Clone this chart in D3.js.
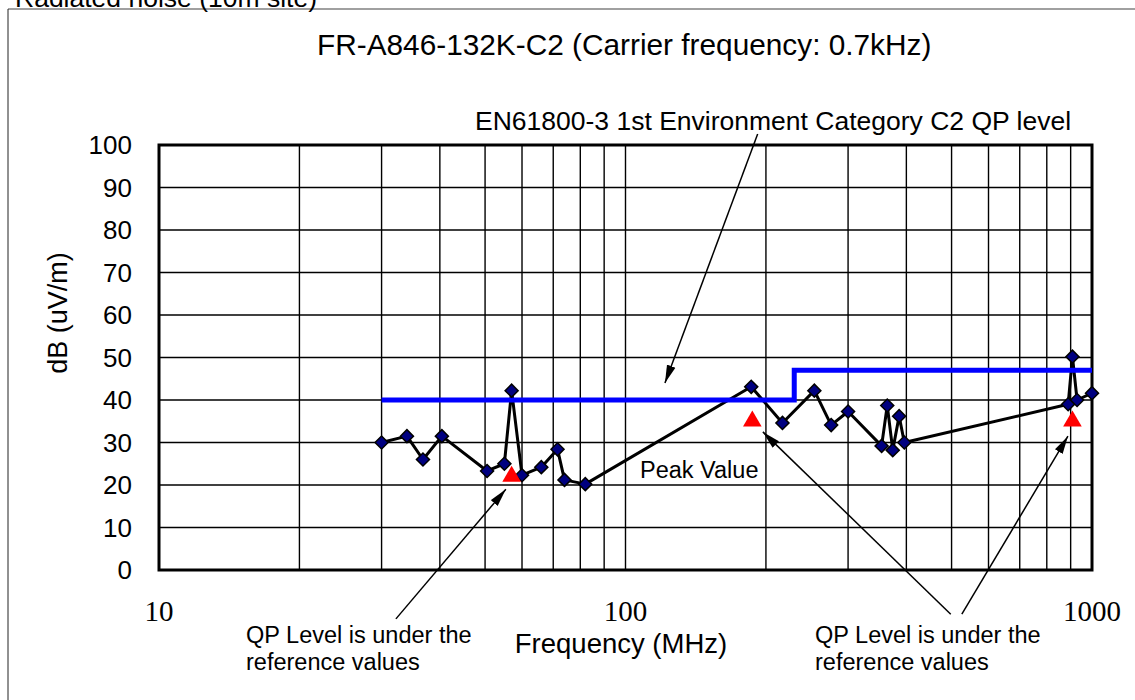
<!DOCTYPE html>
<html lang="en">
  <head>
    <meta charset="UTF-8" />
    <title>Radiated noise (10m site)</title>
    <script src="https://cdn.jsdelivr.net/npm/d3@7"></script>
    <style>
      body { margin: 0; background: #fff; }
      text { font-family: Arial, "Liberation Sans", sans-serif; fill: #000; }
      .serif { font-family: "Times New Roman", "Liberation Serif", serif; }
    </style>
  </head>
  <body>
    <div id="chart"></div>
    <script>
      // measured peak values (MHz, dBuV/m)
      const freqMHz = [30, 34, 36.8, 40.4, 50.5, 55, 57, 60, 66, 71.5, 74, 82, 186, 217, 254, 276, 300, 354, 364, 374, 386, 396, 889, 908, 929, 1000];
      const peakDb = [30, 31.5, 26, 31.5, 23.3, 25, 42.2, 22.3, 24.2, 28.4, 21.2, 20.2, 43.1, 34.6, 42.2, 34.1, 37.3, 29.2, 38.7, 28.2, 36.2, 30, 39, 50.2, 40, 41.6];

      // QP readings (red triangles)
      const qpFreq = [57, 187, 908];
      const qpDb = [22, 35, 35];

      // EN61800-3 C2 QP limit (step)
      const limitFreq = [30, 230, 230, 1000];
      const limitDb = [40, 40, 47, 47];

      const yTicks = [0, 10, 20, 30, 40, 50, 60, 70, 80, 90, 100];
      const xLabels = [10, 100, 1000];

      const width = 1135, height = 700;
      const plotLeft = 159, plotRight = 1092, plotTop = 145, plotBottom = 570;

      const x = d3.scaleLog().domain([10, 1000]).range([plotLeft, plotRight]);
      const y = d3.scaleLinear().domain([0, 100]).range([plotBottom, plotTop]);

      const svg = d3.select("#chart").append("svg")
        .attr("width", width)
        .attr("height", height);

      svg.append("defs").append("marker")
        .attr("id", "arrow")
        .attr("markerUnits", "userSpaceOnUse")
        .attr("viewBox", "0 -5 18 10")
        .attr("refX", 18).attr("refY", 0)
        .attr("markerWidth", 18).attr("markerHeight", 10)
        .attr("orient", "auto")
        .append("path")
        .attr("d", "M0,-4.5L18,0L0,4.5Z")
        .attr("fill", "#000");

      // outer frame
      svg.append("line").attr("x1", 8).attr("x2", width).attr("y1", 9).attr("y2", 9)
        .attr("stroke", "#808080").attr("stroke-width", 1.5);
      svg.append("line").attr("x1", 8).attr("x2", 8).attr("y1", 9).attr("y2", height)
        .attr("stroke", "#222").attr("stroke-width", 1);

      svg.append("text")
        .attr("x", 15).attr("y", 7)
        .attr("font-size", 26.5)
        .text("Radiated noise (10m site)");

      svg.append("text")
        .attr("x", 317).attr("y", 55)
        .attr("font-size", 29.8)
        .text("FR-A846-132K-C2 (Carrier frequency: 0.7kHz)");

      // grid
      const grid = svg.append("g").attr("stroke", "#000").attr("stroke-width", 1.4);
      grid.selectAll(".vg")
        .data(x.ticks().filter(d => d > 10 && d < 1000))
        .join("line")
        .attr("x1", d => x(d)).attr("x2", d => x(d))
        .attr("y1", plotTop).attr("y2", plotBottom);
      grid.selectAll(".hg")
        .data(yTicks.slice(1, -1))
        .join("line")
        .attr("x1", plotLeft).attr("x2", plotRight)
        .attr("y1", d => y(d)).attr("y2", d => y(d));

      svg.append("rect")
        .attr("x", plotLeft).attr("y", plotTop)
        .attr("width", plotRight - plotLeft).attr("height", plotBottom - plotTop)
        .attr("fill", "none").attr("stroke", "#000").attr("stroke-width", 3);

      // y tick labels
      svg.append("g").selectAll("text")
        .data(yTicks)
        .join("text")
        .attr("x", 132).attr("y", d => y(d))
        .attr("dy", "0.36em")
        .attr("text-anchor", "end")
        .attr("font-size", 26)
        .text(d => d);

      // x tick labels
      svg.append("g").selectAll("text")
        .data(xLabels)
        .join("text")
        .attr("class", "serif")
        .attr("x", d => x(d)).attr("y", 621)
        .attr("text-anchor", "middle")
        .attr("font-size", 29)
        .text(d => d);

      svg.append("text")
        .attr("x", 621).attr("y", 653)
        .attr("text-anchor", "middle")
        .attr("font-size", 27.5)
        .text("Frequency (MHz)");

      svg.append("text")
        .attr("transform", "translate(67,313) rotate(-90)")
        .attr("text-anchor", "middle")
        .attr("font-size", 27)
        .text("dB (uV/m)");

      // peak line
      const peaks = freqMHz.map((f, i) => [f, peakDb[i]]);
      const line = d3.line().x(d => x(d[0])).y(d => y(d[1]));

      svg.append("path")
        .datum(peaks)
        .attr("d", line)
        .attr("fill", "none")
        .attr("stroke", "#000")
        .attr("stroke-width", 3)
        .attr("stroke-linejoin", "round");

      // limit line
      svg.append("path")
        .datum(limitFreq.map((f, i) => [f, limitDb[i]]))
        .attr("d", line)
        .attr("fill", "none")
        .attr("stroke", "#0000ff")
        .attr("stroke-width", 5);

      svg.append("g").selectAll("path")
        .data(peaks)
        .join("path")
        .attr("d", d3.symbol(d3.symbolSquare, 85))
        .attr("transform", d => `translate(${x(d[0])},${y(d[1])}) rotate(45)`)
        .attr("fill", "#000080")
        .attr("stroke", "#000")
        .attr("stroke-width", 1.5);

      svg.append("g").selectAll("path")
        .data(qpFreq.map((f, i) => [f, qpDb[i]]))
        .join("path")
        .attr("d", d3.symbol(d3.symbolTriangle, 150))
        .attr("transform", d => `translate(${x(d[0])},${y(d[1])})`)
        .attr("fill", "#ff0000");

      // annotations: [from freq, from dB, to freq, to dB]
      const arrows = [
        [192, 102.6, 121.5, 44],
        [32.2, -11.5, 55.4, 19],
        [498, -10.4, 197, 32.5],
        [526, -10.4, 888, 31.5]
      ];
      svg.append("g").selectAll("line")
        .data(arrows)
        .join("line")
        .attr("x1", d => x(d[0])).attr("y1", d => y(d[1]))
        .attr("x2", d => x(d[2])).attr("y2", d => y(d[3]))
        .attr("stroke", "#000").attr("stroke-width", 1.5)
        .attr("marker-end", "url(#arrow)");

      svg.append("text")
        .attr("x", 475).attr("y", 130)
        .attr("font-size", 26.5)
        .text("EN61800-3 1st Environment Category C2 QP level");

      svg.append("text")
        .attr("x", 640).attr("y", 478)
        .attr("font-size", 23.5)
        .text("Peak Value");

      const qpNotes = [246, 815];
      qpNotes.forEach(px => {
        const t = svg.append("text").attr("font-size", 23.5);
        t.append("tspan").attr("x", px).attr("y", 643).text("QP Level is under the");
        t.append("tspan").attr("x", px).attr("y", 670).text("reference values");
      });
    </script>
  </body>
</html>
